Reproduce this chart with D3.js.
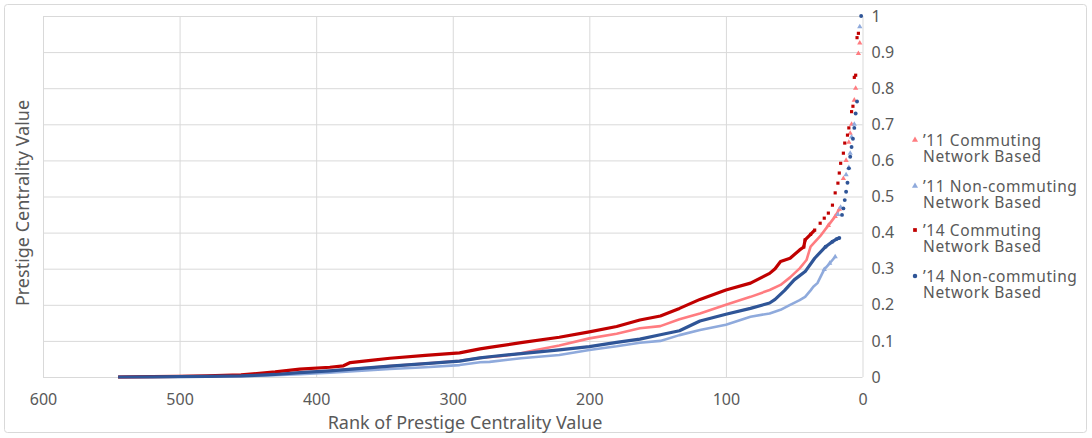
<!DOCTYPE html>
<html>
<head>
<meta charset="utf-8">
<script src="https://cdn.jsdelivr.net/npm/d3@7"></script>
<style>
  body { margin: 0; background: #fff; }
  text { font-family: "Noto Sans", "Open Sans", sans-serif; fill: #595959; }
</style>
</head>
<body>
<div class="chart"></div>
<script>
let ranks11c = [545,520,500,480,455,430,412,390,346,320,295,280,260,250,240,222,200,180,163,148,134,119,100,82,68,60,53,46,41,38,31,25,20,17,14,12,10,9,8,6,5,3,2];
let vals11c  = [0,0.0005,0.001,0.002,0.003,0.007,0.012,0.017,0.03,0.037,0.045,0.053,0.06,0.066,0.074,0.087,0.107,0.12,0.135,0.141,0.16,0.176,0.2,0.222,0.241,0.255,0.276,0.301,0.324,0.361,0.39,0.42,0.445,0.465,0.55,0.6,0.65,0.675,0.7,0.767,0.8,0.896,0.925];

let ranks11n = [545,520,500,480,455,430,412,390,346,320,295,280,273,250,222,200,180,163,148,134,119,100,82,68,60,53,46,42,38,36,33,28,24,20,18,16,12,10,9,8,6,2];
let vals11n  = [0,0.0005,0.001,0.0015,0.002,0.005,0.008,0.012,0.022,0.027,0.033,0.041,0.042,0.052,0.061,0.075,0.085,0.095,0.1,0.116,0.13,0.145,0.167,0.176,0.186,0.2,0.213,0.222,0.24,0.25,0.26,0.298,0.315,0.333,0.45,0.47,0.56,0.58,0.62,0.665,0.7,0.97];

let ranks14c = [545,520,500,480,455,430,412,390,380,375,360,346,320,295,280,273,250,222,200,180,163,148,134,119,100,82,68,64,60,53,46,43,42,38,35,31,28,25,22,20,18,17,16,14,13,11,10,8,7,6,5,4,3];
let vals14c  = [0,0.001,0.002,0.003,0.006,0.014,0.022,0.027,0.031,0.04,0.046,0.052,0.06,0.067,0.078,0.082,0.095,0.11,0.125,0.14,0.158,0.169,0.19,0.215,0.241,0.26,0.287,0.3,0.32,0.329,0.352,0.36,0.38,0.395,0.407,0.426,0.44,0.454,0.476,0.51,0.537,0.565,0.592,0.62,0.648,0.67,0.69,0.735,0.75,0.83,0.836,0.94,0.952];

let ranks14n = [545,520,500,480,455,430,412,390,346,320,295,280,273,250,222,200,180,163,148,134,119,100,82,68,64,57,50,42,35,27,22,19,17,15,14,13,12,11,10,9,8,7,6,5,4,1];
let vals14n  = [0,0.0005,0.001,0.002,0.003,0.007,0.012,0.017,0.03,0.037,0.044,0.053,0.056,0.065,0.075,0.084,0.096,0.105,0.117,0.128,0.155,0.174,0.19,0.205,0.215,0.24,0.269,0.292,0.329,0.361,0.375,0.382,0.385,0.449,0.467,0.49,0.513,0.538,0.578,0.61,0.637,0.66,0.69,0.73,0.763,1.0];

let xTicks = [600,500,400,300,200,100,0];
let yTicks = [0,0.1,0.2,0.3,0.4,0.5,0.6,0.7,0.8,0.9,1];

let seriesNames = ["’11 Commuting", "’11 Non-commuting", "’14 Commuting", "’14 Non-commuting"];

let svgWidth = 1092;
let svgHeight = 438;
let margin = { top: 16, left: 43, right: 229.5, bottom: 61 };
let width = svgWidth - margin.left - margin.right;
let height = svgHeight - margin.top - margin.bottom;

let series = [
    { name: seriesNames[0], ranks: ranks11c, vals: vals11c, color: "#FF7C80", shape: d3.symbolTriangle, size: 12, lw: 2.6, cut: 17 },
    { name: seriesNames[1], ranks: ranks11n, vals: vals11n, color: "#8FAADC", shape: d3.symbolTriangle, size: 12, lw: 2.6, cut: 20 },
    { name: seriesNames[2], ranks: ranks14c, vals: vals14c, color: "#C00000", shape: d3.symbolSquare, size: 10, lw: 3.2, cut: 35 },
    { name: seriesNames[3], ranks: ranks14n, vals: vals14n, color: "#2F5597", shape: d3.symbolCircle, size: 12, lw: 3.2, cut: 17 }
];

let svg = d3.select(".chart")
    .append("svg")
    .attr("width", svgWidth)
    .attr("height", svgHeight);

svg.append("rect")
    .attr("x", 4.5)
    .attr("y", 4.5)
    .attr("width", 1082)
    .attr("height", 428)
    .attr("rx", 3)
    .attr("fill", "none")
    .attr("stroke", "#d9d9d9");

let chartgroup = svg.append("g")
    .attr("transform", `translate(${margin.left}, ${margin.top})`);

let xScale = d3.scaleLinear().domain([600, 0]).range([0, width]);
let yScale = d3.scaleLinear().domain([0, 1]).range([height, 0]);

// gridlines
chartgroup.append("g")
    .call(d3.axisBottom(xScale).tickValues(xTicks).tickSize(height).tickFormat(""))
    .call(g => g.select(".domain").remove())
    .call(g => g.selectAll("line").attr("stroke", "#d9d9d9"));
chartgroup.append("g")
    .call(d3.axisLeft(yScale).tickValues(yTicks).tickSize(-width).tickFormat(""))
    .call(g => g.select(".domain").remove())
    .call(g => g.selectAll("line").attr("stroke", "#d9d9d9"));

// tick labels
let xAxis = chartgroup.append("g")
    .attr("transform", `translate(0, ${height})`)
    .call(d3.axisBottom(xScale).tickValues(xTicks).tickSize(0).tickPadding(17).tickFormat(d3.format("d")));
xAxis.select(".domain").remove();
xAxis.selectAll("text").style("font-size", "16px").attr("fill", "#595959");

let yAxis = chartgroup.append("g")
    .attr("transform", `translate(${width}, 0)`)
    .call(d3.axisRight(yScale).tickValues(yTicks).tickSize(0).tickPadding(9).tickFormat(d => d === 0 || d === 1 ? d : d3.format(".1f")(d)));
yAxis.select(".domain").remove();
yAxis.selectAll("text").style("font-size", "16px").attr("fill", "#595959");

// series
let line = d3.line()
    .x(d => xScale(d.r))
    .y(d => yScale(d.v));

series.forEach(function(s) {
    let pts = s.ranks.map((r, i) => ({ r: r, v: s.vals[i] }));
    chartgroup.append("path")
        .datum(pts.filter(d => d.r >= s.cut))
        .attr("d", line)
        .attr("fill", "none")
        .attr("stroke", s.color)
        .attr("stroke-width", s.lw)
        .attr("stroke-linejoin", "round");
    chartgroup.selectAll(null)
        .data(pts.filter(d => d.r <= s.cut + 10))
        .enter()
        .append("path")
        .attr("d", d3.symbol().type(s.shape).size(s.size))
        .attr("transform", d => `translate(${xScale(d.r)}, ${yScale(d.v)})`)
        .attr("fill", s.color);
});

// axis titles
svg.append("text")
    .attr("x", 465)
    .attr("y", 429)
    .attr("text-anchor", "middle")
    .style("font-size", "18px")
    .text("Rank of Prestige Centrality Value");
svg.append("text")
    .attr("transform", "rotate(-90)")
    .attr("x", -203)
    .attr("y", 29)
    .attr("text-anchor", "middle")
    .style("font-size", "18px")
    .text("Prestige Centrality Value");

// legend
let legend = svg.append("g").attr("transform", "translate(915, 140)");
series.forEach(function(s, i) {
    let gy = [0, 46, 90, 136][i];
    let item = legend.append("g").attr("transform", `translate(0, ${gy})`);
    item.append("path")
        .attr("d", d3.symbol().type(s.shape).size(s.size + 4))
        .attr("fill", s.color);
    item.append("text")
        .attr("x", 8)
        .attr("y", 5.5)
        .style("font-size", "15.5px")
        .style("letter-spacing", "0.6px")
        .text(s.name);
    item.append("text")
        .attr("x", 8)
        .attr("y", 21.5)
        .style("font-size", "15.5px")
        .style("letter-spacing", "0.6px")
        .text("Network Based");
});
</script>
</body>
</html>
